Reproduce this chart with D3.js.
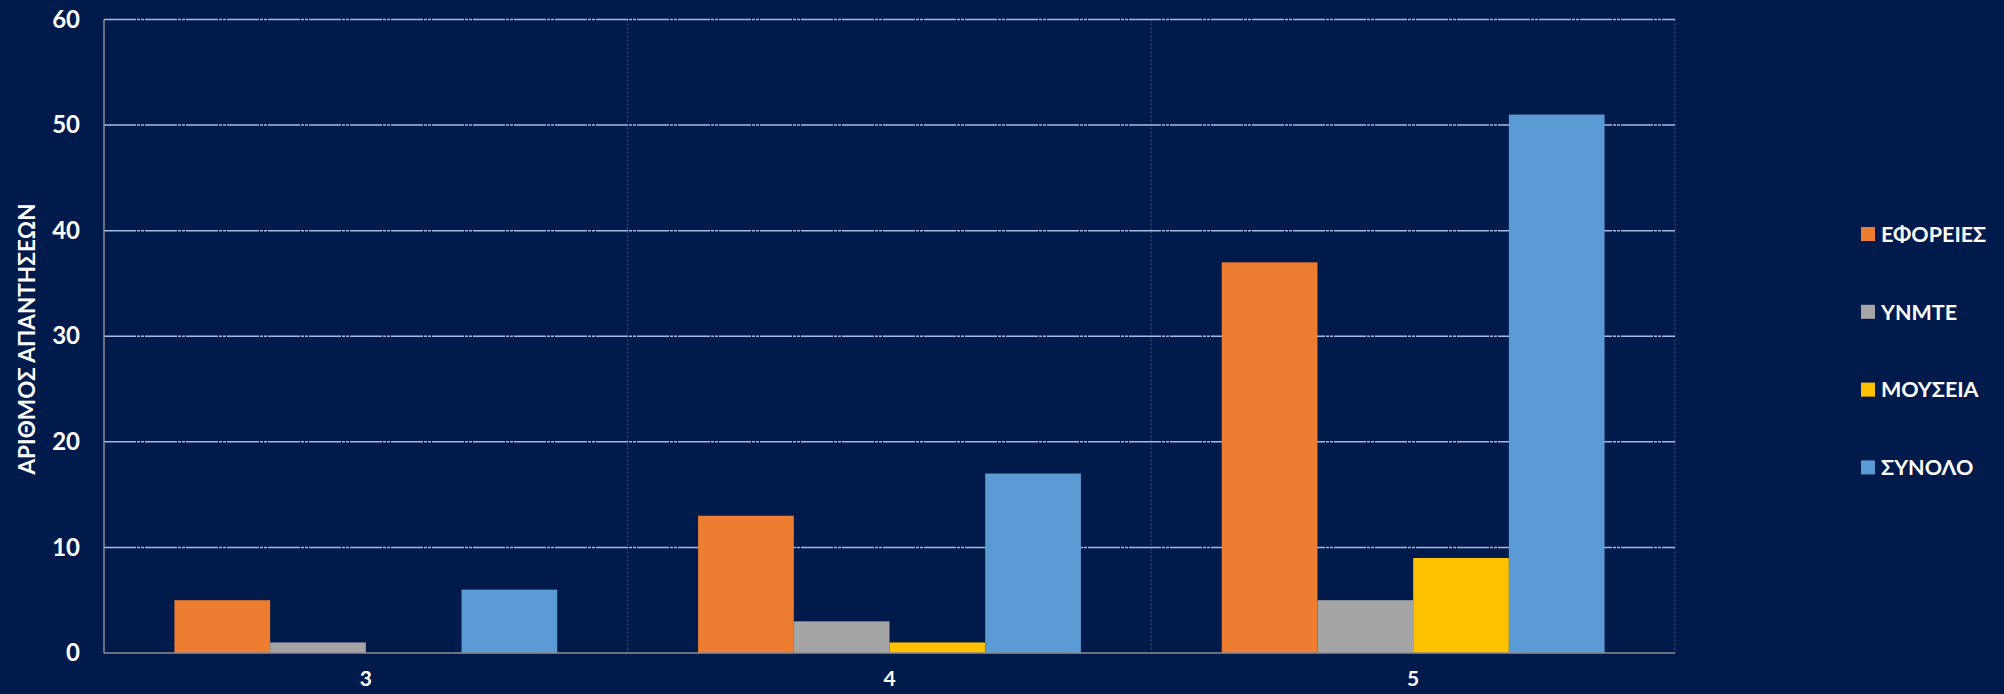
<!DOCTYPE html>
<html><head><meta charset="utf-8">
<script src="https://cdn.jsdelivr.net/npm/d3@7"></script>
<style>
html,body{margin:0;padding:0;background:#001a4c;}
svg{display:block;}
text{font-family:Lato,"Open Sans",sans-serif;font-weight:bold;fill:#ffffff;}
</style></head>
<body>
<script>
const categories = ["3", "4", "5"];
const seriesNames = ["ΕΦΟΡΕΙΕΣ", "ΥΝΜΤΕ", "ΜΟΥΣΕΙΑ", "ΣΥΝΟΛΟ"];
const eforeies = [5, 13, 37];
const ynmte = [1, 3, 5];
const mouseia = [0, 1, 9];
const synolo = [6, 17, 51];
const yTicks = [0, 10, 20, 30, 40, 50, 60];
const colors = ["#ED7D31", "#A5A5A5", "#FFC000", "#5B9BD5"];
const yTitle = "ΑΡΙΘΜΟΣ ΑΠΑΝΤΗΣΕΩΝ";

const seriesValues = [eforeies, ynmte, mouseia, synolo];
const W = 2004, H = 694;
const mLeft = 104, mRight = 1675, mTop = 19.5, mBottom = 653;

const svg = d3.select("body").append("svg").attr("width", W).attr("height", H);
svg.append("rect").attr("width", W).attr("height", H).attr("fill", "#001a4c");

const x = d3.scaleBand().domain(categories).range([mLeft, mRight]).paddingInner(0).paddingOuter(0);
const barW = x.bandwidth() * 0.731 / 4;
const offset = (x.bandwidth() - barW * 4) / 2;
const y = d3.scaleLinear().domain([0, 60]).range([mBottom, mTop]);

// vertical category separators
svg.append("g").selectAll("line").data(categories).join("line")
  .attr("x1", d => x(d) + x.bandwidth())
  .attr("x2", d => x(d) + x.bandwidth())
  .attr("y1", mTop).attr("y2", mBottom)
  .attr("stroke", "#34497a").attr("stroke-width", 1.2).attr("stroke-dasharray", "2,2");

// gridlines
svg.append("g").selectAll("line").data(yTicks.filter(d => d > 0)).join("line")
  .attr("x1", mLeft).attr("x2", mRight)
  .attr("y1", d => y(d)).attr("y2", d => y(d))
  .attr("stroke", "#a3bae4").attr("stroke-width", 1.5)
  .attr("stroke-dasharray", "32,1,3,1,3,1");

// bars
const g = svg.append("g");
seriesNames.forEach((s, si) => {
  g.append("g").selectAll("rect").data(categories).join("rect")
    .attr("x", (c) => x(c) + offset + si * barW)
    .attr("width", barW)
    .attr("y", (c, ci) => y(seriesValues[si][ci]))
    .attr("height", (c, ci) => y(0) - y(seriesValues[si][ci]))
    .attr("fill", colors[si]);
});

// axes lines
svg.append("line").attr("x1", mLeft).attr("x2", mLeft).attr("y1", mTop).attr("y2", mBottom)
  .attr("stroke", "#8c8c8c").attr("stroke-width", 1.5);
svg.append("line").attr("x1", mLeft).attr("x2", mRight).attr("y1", mBottom).attr("y2", mBottom)
  .attr("stroke", "#8c8c8c").attr("stroke-width", 1.5);

// y axis labels
const yAxis = d3.axisLeft(y).tickValues(yTicks).tickSize(0).tickPadding(0);
const ya = svg.append("g").attr("transform", `translate(${mLeft - 24},0)`).call(yAxis);
ya.select(".domain").remove();
ya.selectAll("text").attr("font-size", 24).attr("fill", "#fff")
  .style("font-family", "Lato, 'Open Sans', sans-serif").style("font-weight", "bold");

// x axis labels
const xAxis = d3.axisBottom(x).tickSize(0).tickPadding(0);
const xa = svg.append("g").attr("transform", `translate(0,${mBottom + 18})`).call(xAxis);
xa.select(".domain").remove();
xa.selectAll("text").attr("font-size", 21).attr("fill", "#fff")
  .style("font-family", "Lato, 'Open Sans', sans-serif").style("font-weight", "bold");

// y title
svg.append("text").attr("transform", `translate(35,339) rotate(-90)`)
  .attr("text-anchor", "middle").attr("font-size", 22.5).text(yTitle);

// legend
const lg = svg.append("g");
seriesNames.forEach((s, i) => {
  const cy = 234 + i * 77.8;
  lg.append("rect").attr("x", 1861).attr("y", cy - 7).attr("width", 14).attr("height", 14).attr("fill", colors[i]);
  lg.append("text").attr("x", 1881).attr("y", cy).attr("dy", "0.36em").attr("font-size", 21.5).text(s);
});
</script>
</body></html>
